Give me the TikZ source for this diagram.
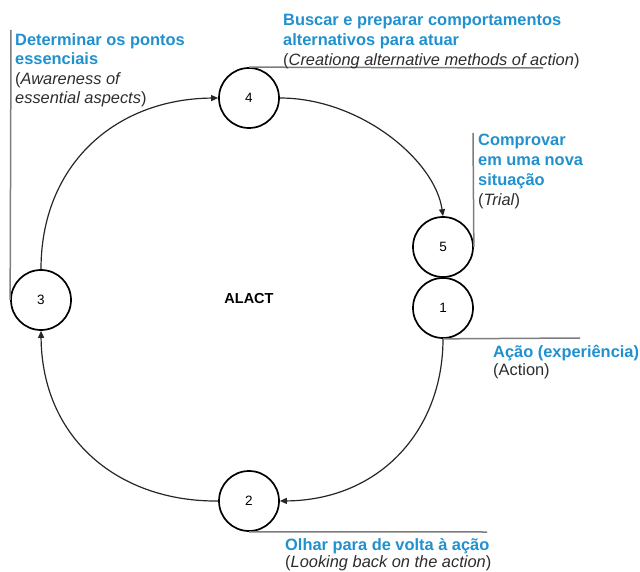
\documentclass[tikz,border=0pt]{standalone}
\usepackage{fontspec}
\setmainfont{Liberation Sans}
\usetikzlibrary{arrows.meta}
\definecolor{lblue}{RGB}{32,144,206}
\definecolor{itgray}{RGB}{45,45,45}
\definecolor{lgray}{RGB}{125,125,125}
\begin{document}
\begin{tikzpicture}[x=1pt,y=-1pt,
  stage/.style={circle,draw=black,line width=1.7pt,minimum size=60pt,inner sep=0pt,font=\fontsize{13.5}{15}\selectfont},
  flow/.style={line width=1.2pt,draw=black!85,-{Triangle[length=7pt,width=6pt]}},
  lead/.style={draw=lgray,line width=1.5pt},
  ttl/.style={anchor=base west,inner sep=0pt,text=lblue,font=\fontsize{16.4}{20}\selectfont\bfseries},
  sub/.style={anchor=base west,inner sep=0pt,text=itgray,font=\fontsize{16.4}{20}\selectfont},
  mid/.style={inner sep=0pt,font=\fontsize{14.5}{17}\selectfont\bfseries}
]
\useasboundingbox (0,0) rectangle (640,572);

% stages
\node[stage] (n4) at (249,98) {4};
\node[stage] (n5) at (443,247) {5};
\node[stage] (n1) at (443,308) {1};
\node[stage] (n2) at (249,501) {2};
\node[stage] (n3) at (41,300) {3};
\node[mid] (alact) at (249,299) {ALACT};

% flow
\draw[flow] (n3.north) .. controls (41,165) and (115,99) .. (n4.west);
\draw[flow] (n4.east) .. controls (360,98) and (435,160) .. (n5.north);
\draw[flow] (n1.south) .. controls (443,430) and (380,500) .. (n2.east);
\draw[flow] (n2.west) .. controls (120,502) and (42,440) .. (n3.south);

% leader lines
\coordinate (l3t) at (11,30);
\coordinate (l4e) at (543,68);
\coordinate (l5t) at (473,133);
\coordinate (l1e) at (580,338);
\coordinate (l2e) at (487,532);
\draw[lead] (l3t) -- (n3.west);
\draw[lead] (n4.north) -- (l4e);
\draw[lead] (l5t) -- (n5.east);
\draw[lead] (n1.south) -- (l1e);
\draw[lead] (n2.south) -- (l2e);

% labels: stage 3
\node[ttl] (t3a) at (15,45.5) {Determinar os pontos};
\node[ttl] (t3b) at (15,65) {essenciais};
\node[sub] (t3c) at (15,84.5) {(\textit{Awareness of}};
\node[sub] (t3d) at (15,104) {\textit{essential aspects})};
% stage 4
\node[ttl] (t4a) at (283,26) {Buscar e preparar comportamentos};
\node[ttl] (t4b) at (283,46) {alternativos para atuar};
\node[sub] (t4c) at (283,66) {(\textit{Creationg alternative methods of action})};
% stage 5
\node[ttl] (t5a) at (478,146) {Comprovar};
\node[ttl] (t5b) at (478,166) {em uma nova};
\node[ttl] (t5c) at (478,186) {situação};
\node[sub] (t5d) at (478,206) {(\textit{Trial})};
% stage 1
\node[ttl] (t1a) at (493,357) {Ação (experiência)};
\node[sub] (t1b) at (493,375) {(Action)};
% stage 2
\node[ttl] (t2a) at (285,550) {Olhar para de volta à ação};
\node[sub] (t2b) at (285,567) {(\textit{Looking back on the action})};
\end{tikzpicture}
\end{document}
